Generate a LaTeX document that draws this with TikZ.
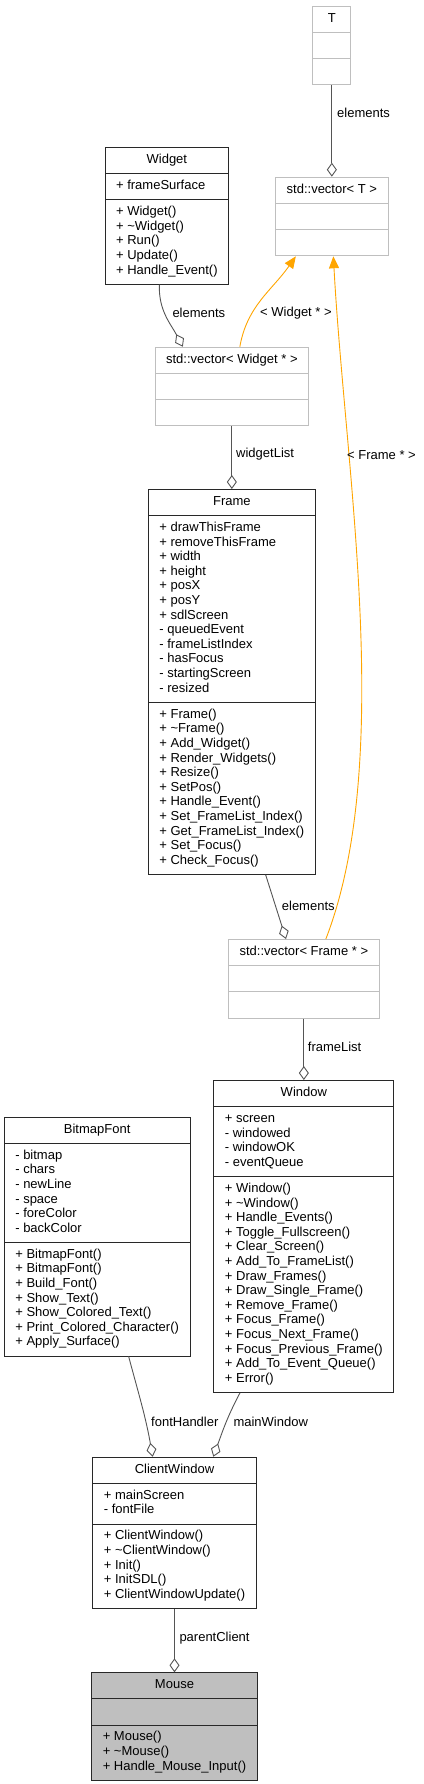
\documentclass[tikz,border=0pt]{standalone}
\usepackage{fontspec}
\setmainfont{Liberation Sans}
\usepackage{xcolor}
\usetikzlibrary{shapes.multipart,arrows.meta}
\definecolor{doxyOrange}{RGB}{255, 165, 0}
\definecolor{doxyEdge}{RGB}{85, 85, 85}
\definecolor{doxyBorder}{RGB}{40, 40, 40}
\definecolor{doxyLightGray}{RGB}{191, 191, 191}
\definecolor{doxyFill}{RGB}{191, 191, 191}

\begin{document}
\begin{tikzpicture}[x=1pt, y=-1pt, font=\fontsize{13}{14.6}\selectfont,
    classbox/.style={rectangle split, rectangle split parts=3, draw=doxyBorder, line width=0.9pt,
        rectangle split part align={center,left,left}, inner xsep=11pt, inner ysep=5.3pt, anchor=north},
    tmplbox/.style={classbox, draw=doxyLightGray, line width=1pt},
    aggr/.style={-{Diamond[open, length=14pt, width=10pt]}, doxyEdge, line width=0.9pt},
    inst/.style={-{Triangle[length=12pt, width=10pt]}, doxyOrange, line width=0.9pt},
    edgelabel/.style={anchor=west, inner sep=0pt}]
    \useasboundingbox (0,0) rectangle (423,1784);

    % T
    \node[tmplbox, minimum width=38pt] (T) at (331.85,5.7) {\begin{tabular}{@{}c@{}}T\end{tabular}
        \nodepart{two}\strut \nodepart{three}\strut};

    % std::vector< T >
    \node[tmplbox] (vecT) at (331.85,176.7) {\begin{tabular}{@{}c@{}}std::vector< T >\end{tabular}
        \nodepart{two}\strut \nodepart{three}\strut};

    % Widget
    \node[classbox] (widget) at (166.85,147) {\begin{tabular}{@{}c@{}}Widget\end{tabular}
        \nodepart{two}\begin{tabular}{@{}l@{}}+ frameSurface\end{tabular}
        \nodepart{three}\begin{tabular}{@{}l@{}}+ Widget()\\+ \textasciitilde Widget()\\+ Run()\\+ Update()\\+ Handle\_Event()\end{tabular}};

    % std::vector< Widget * >
    \node[tmplbox] (vecwidget) at (231.85,346.7) {\begin{tabular}{@{}c@{}}std::vector< Widget * >\end{tabular}
        \nodepart{two}\strut \nodepart{three}\strut};

    % Frame
    \node[classbox] (frame) at (231.85,489) {\begin{tabular}{@{}c@{}}Frame\end{tabular}
        \nodepart{two}\begin{tabular}{@{}l@{}}+ drawThisFrame\\+ removeThisFrame\\+ width\\+ height\\+ posX\\+ posY\\+ sdlScreen\\- queuedEvent\\- frameListIndex\\- hasFocus\\- startingScreen\\- resized\end{tabular}
        \nodepart{three}\begin{tabular}{@{}l@{}}+ Frame()\\+ \textasciitilde Frame()\\+ Add\_Widget()\\+ Render\_Widgets()\\+ Resize()\\+ SetPos()\\+ Handle\_Event()\\+ Set\_FrameList\_Index()\\+ Get\_FrameList\_Index()\\+ Set\_Focus()\\+ Check\_Focus()\end{tabular}};

    % std::vector< Frame * >
    \node[tmplbox] (vecframe) at (303.85,939) {\begin{tabular}{@{}c@{}}std::vector< Frame * >\end{tabular}
        \nodepart{two}\strut \nodepart{three}\strut};

    % Window
    \node[classbox] (window) at (303.85,1080) {\begin{tabular}{@{}c@{}}Window\end{tabular}
        \nodepart{two}\begin{tabular}{@{}l@{}}+ screen\\- windowed\\- windowOK\\- eventQueue\end{tabular}
        \nodepart{three}\begin{tabular}{@{}l@{}}+ Window()\\+ \textasciitilde Window()\\+ Handle\_Events()\\+ Toggle\_Fullscreen()\\+ Clear\_Screen()\\+ Add\_To\_FrameList()\\+ Draw\_Frames()\\+ Draw\_Single\_Frame()\\+ Remove\_Frame()\\+ Focus\_Frame()\\+ Focus\_Next\_Frame()\\+ Focus\_Previous\_Frame()\\+ Add\_To\_Event\_Queue()\\+ Error()\end{tabular}};

    % BitmapFont
    \node[classbox] (bitmapfont) at (97.15,1116.7) {\begin{tabular}{@{}c@{}}BitmapFont\end{tabular}
        \nodepart{two}\begin{tabular}{@{}l@{}}- bitmap\\- chars\\- newLine\\- space\\- foreColor\\- backColor\end{tabular}
        \nodepart{three}\begin{tabular}{@{}l@{}}+ BitmapFont()\\+ BitmapFont()\\+ Build\_Font()\\+ Show\_Text()\\+ Show\_Colored\_Text()\\+ Print\_Colored\_Character()\\+ Apply\_Surface()\end{tabular}};

    % ClientWindow
    \node[classbox] (clientwindow) at (174.5,1456.7) {\begin{tabular}{@{}c@{}}ClientWindow\end{tabular}
        \nodepart{two}\begin{tabular}{@{}l@{}}+ mainScreen\\- fontFile\end{tabular}
        \nodepart{three}\begin{tabular}{@{}l@{}}+ ClientWindow()\\+ \textasciitilde ClientWindow()\\+ Init()\\+ InitSDL()\\+ ClientWindowUpdate()\end{tabular}};

    % Mouse
    \node[classbox, fill=doxyFill] (mouse) at (174.5,1672.3) {\begin{tabular}{@{}c@{}}Mouse\end{tabular}
        \nodepart{two}\strut
        \nodepart{three}\begin{tabular}{@{}l@{}}+ Mouse()\\+ \textasciitilde Mouse()\\+ Handle\_Mouse\_Input()\end{tabular}};

    % Arrows
    \draw[aggr] (T) -- (vecT);
    \draw[aggr] ([xshift=-7.5pt]widget.south) to[out=-92, in=118] ([xshift=-49pt]vecwidget.north);
    \draw[inst] ([xshift=8pt]vecwidget.north) to[out=80, in=-125] ([xshift=-36pt]vecT.south);
    \draw[inst] ([xshift=22pt]vecframe.north) .. controls (395,760) and (345,470) .. ([xshift=1.5pt]vecT.south);
    \draw[aggr] (vecwidget) -- (frame);
    \draw[aggr] ([xshift=33.8pt]frame.south) -- ([xshift=-17.85pt]vecframe.north);
    \draw[aggr] (vecframe) -- (window);
    \draw[aggr] ([xshift=31.5pt]bitmapfont.south) to[out=-75, in=100] ([xshift=-21.8pt]clientwindow.north);
    \draw[aggr] ([xshift=-63.85pt]window.south) to[out=-118, in=70] ([xshift=38.8pt]clientwindow.north);
    \draw[aggr] (clientwindow) -- (mouse);

    % Labels
    \node[edgelabel] (lblTelements) at (337,113) {elements};
    \node[edgelabel] (lblWidgetelements) at (172.3,313.3) {elements};
    \node[edgelabel] (lblWidgetinst) at (260,313.3) {< Widget * >};
    \node[edgelabel] (lblFrameinst) at (347,455) {< Frame * >};
    \node[edgelabel] (lblwidgetList) at (236,454) {widgetList};
    \node[edgelabel] (lblFrameelements) at (281.7,905.7) {elements};
    \node[edgelabel] (lblframeList) at (307.7,1046.7) {frameList};
    \node[edgelabel] (lblfontHandler) at (151,1422.3) {fontHandler};
    \node[edgelabel] (lblmainWindow) at (233.3,1422.3) {mainWindow};
    \node[edgelabel] (lblparentClient) at (179.3,1638.3) {parentClient};
\end{tikzpicture}
\end{document}
